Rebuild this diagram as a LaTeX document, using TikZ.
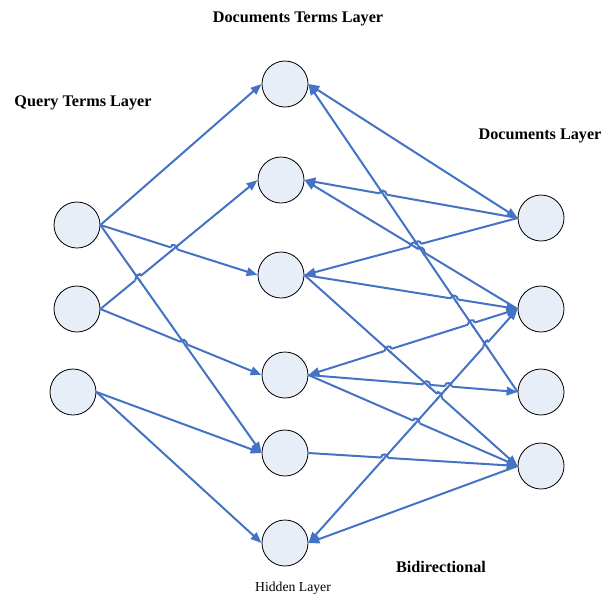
\documentclass[tikz,border=0pt]{standalone}
\usepackage{fontspec}
\setmainfont{Liberation Serif}
\usetikzlibrary{arrows.meta,calc,intersections}
\definecolor{edgeblue}{HTML}{4472C4}
\definecolor{nodefill}{HTML}{E8EEF8}
% line #1--#2 hops over line #3--#4
\newcommand{\hopline}[4]{%
  \path[name path=hopA] (#1) -- (#2);
  \path[name path=hopB] (#3) -- (#4);
  \path[name intersections={of=hopA and hopB, by=hopP}];
  \coordinate (hopX) at ($(hopP)!3.5pt!(#1)$);
  \coordinate (hopY) at ($(hopP)!3.5pt!(#2)$);
  \draw[white,line width=3.4pt] (hopX) -- (hopY);
  \draw[edgeblue,line width=2pt] ($(hopP)!5pt!(#3)$) -- ($(hopP)!5pt!(#4)$);
  \draw[edgeblue,line width=2pt] (hopX) .. controls ($(hopX)+(0,-4.5)$) and ($(hopY)+(0,-4.5)$) .. (hopY);
}
\begin{document}
\begin{tikzpicture}[x=1pt,y=-1pt,
  neuron/.style={circle,draw=black,line width=0.8pt,fill=nodefill,minimum size=46pt,inner sep=0pt},
  tip/.tip={Triangle[length=11pt,width=8.5pt]},
  conn/.style={draw=edgeblue,line width=2pt,-tip},
  back/.style={draw=edgeblue,line width=2pt,tip-},
  both/.style={draw=edgeblue,line width=2pt,tip-tip},
  lbl/.style={font=\fontsize{16.2}{18}\selectfont\bfseries},
  small/.style={font=\fontsize{13.7}{15}\selectfont}]
\useasboundingbox (0,0) rectangle (605,595);
% nodes
\node[neuron] (q1) at (77,225) {};
\node[neuron] (q2) at (77,309) {};
\node[neuron] (q3) at (73,392) {};
\node[neuron] (m1) at (285,84) {};
\node[neuron] (m2) at (281,180) {};
\node[neuron] (m3) at (281,275) {};
\node[neuron] (m4) at (285,375) {};
\node[neuron] (m5) at (285,453) {};
\node[neuron] (m6) at (285,543) {};
\node[neuron] (d1) at (541,218) {};
\node[neuron] (d2) at (541,309) {};
\node[neuron] (d3) at (541,392) {};
\node[neuron] (d4) at (541,466) {};
% labels
\node[lbl] (t1) at (298,18.5) {Documents Terms Layer};
\node[lbl] (t2) at (83,103) {Query Terms Layer};
\node[lbl] (t3) at (540,136) {Documents Layer};
\node[lbl] (t4) at (441,567) {Bidirectional};
\node[small] (t5) at (293,588.5) {Hidden Layer};
% query -> hidden
\draw[conn] (q1.east) -- (m1.west);
\draw[conn] (q1.east) -- (m3.west);
\draw[conn] (q1.east) -- (m5.west);
\draw[conn] (q2.east) -- (m2.west);
\draw[conn] (q2.east) -- (m4.west);
\draw[conn] (q3.east) -- (m5.west);
\draw[conn] (q3.east) -- (m6.west);
% hidden <-> documents
\draw[both] (m1.east) -- (d1.west);
\draw[back] (m1.east) -- (d3.west);
\draw[back] (m2.east) -- (d1.west);
\draw[back] (m2.east) -- (d2.west);
\draw[back] (m3.east) -- (d1.west);
\draw[conn] (m3.east) -- (d2.west);
\draw[conn] (m3.east) -- (d4.west);
\draw[both] (m4.east) -- (d2.west);
\draw[conn] (m4.east) -- (d3.west);
\draw[conn] (m4.east) -- (d4.west);
\draw[conn] (m5.east) -- (d4.west);
\draw[both] (m6.east) -- (d2.west);
\draw[back] (m6.east) -- (d4.west);
% line hops
\hopline{q1.east}{m3.west}{q2.east}{m2.west}
\hopline{q2.east}{m2.west}{q1.east}{m5.west}
\hopline{q2.east}{m4.west}{q1.east}{m5.west}
\hopline{m2.east}{d1.west}{m1.east}{d3.west}
\hopline{m2.east}{d2.west}{m1.east}{d3.west}
\hopline{m3.east}{d1.west}{m1.east}{d3.west}
\hopline{m3.east}{d1.west}{m2.east}{d2.west}
\hopline{m3.east}{d2.west}{m1.east}{d3.west}
\hopline{m4.east}{d2.west}{m1.east}{d3.west}
\hopline{m6.east}{d2.west}{m1.east}{d3.west}
\hopline{m4.east}{d2.west}{m3.east}{d4.west}
\hopline{m4.east}{d3.west}{m3.east}{d4.west}
\hopline{m3.east}{d4.west}{m6.east}{d2.west}
\hopline{m4.east}{d3.west}{m6.east}{d2.west}
\hopline{m4.east}{d4.west}{m6.east}{d2.west}
\hopline{m5.east}{d4.west}{m6.east}{d2.west}
\end{tikzpicture}
\end{document}
